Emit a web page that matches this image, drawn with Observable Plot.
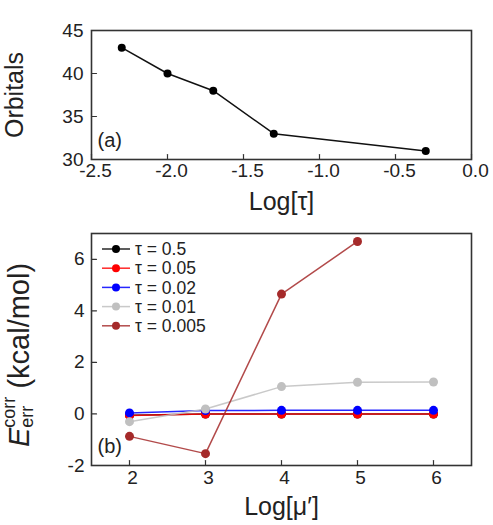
<!DOCTYPE html>
<html><head><meta charset="utf-8">
<script src="https://cdn.jsdelivr.net/npm/d3@7"></script>
<script src="https://cdn.jsdelivr.net/npm/@observablehq/plot@0.6"></script>
<style>
body{margin:0;background:#fff;}
#chart{width:493px;height:525px;}
#chart svg{display:block;overflow:visible;}
</style>
</head><body><div id="chart"></div>
<script>
// ---- Panel (a) data ----
const logTau = [-2.301, -2.0, -1.699, -1.301, -0.301];
const orbitals = [43, 40, 38, 33, 31];
const xTicksA = [-2.5, -2.0, -1.5, -1.0, -0.5, 0.0];
const yTicksA = [30, 35, 40, 45];

// ---- Panel (b) data ----
const logMu = [2, 3, 4, 5, 6];
const seriesNames = ["τ = 0.5", "τ = 0.05", "τ = 0.02", "τ = 0.01", "τ = 0.005"];
const seriesColors = ["#000000", "#ff0000", "#0000ff", "#c0c0c0", "#a52a2a"];
const errTau0_5   = [-0.05, 0.0, 0.0, 0.0, 0.0];
const errTau0_05  = [-0.06, 0.0, 0.0, 0.0, 0.0];
const errTau0_02  = [0.04, 0.13, 0.14, 0.14, 0.14];
const errTau0_01  = [-0.30, 0.19, 1.06, 1.23, 1.24];
const errTau0_005 = [-0.87, -1.54, 4.65, 6.69, null];
const xTicksB = [2, 3, 4, 5, 6];
const yTicksB = [-2, 0, 2, 4, 6];

const FONT = "'Liberation Sans', Arial, sans-serif";
const INK = "#222";

const tableA = logTau.map((x, i) => ({x, y: orbitals[i]}));
const seriesValues = [errTau0_5, errTau0_05, errTau0_02, errTau0_01, errTau0_005];
const tableB = seriesNames.map((name, s) =>
  logMu.map((x, i) => ({x, y: seriesValues[s][i], series: name})).filter(d => d.y != null));

const fmt1 = d => d.toFixed(1);

// inward tick shape for vectors
const tickShape = {draw(context, l) { context.moveTo(0, 0); context.lineTo(0, -l); }};
const inTicksX = ticks => Plot.vector(ticks, {x: d => d, frameAnchor: "bottom", length: 5, rotate: 0, anchor: "start", shape: tickShape, stroke: "#333", strokeWidth: 1.2});
const inTicksY = ticks => Plot.vector(ticks, {y: d => d, frameAnchor: "left", length: 5, rotate: 90, anchor: "start", shape: tickShape, stroke: "#333", strokeWidth: 1.2});

const plotA = Plot.plot({
  width: 493, height: 220,
  marginLeft: 91, marginRight: 22, marginTop: 30, marginBottom: 61,
  style: {fontFamily: FONT, fontSize: "19px", color: INK, background: "white"},
  x: {domain: [-2.5, 0]},
  y: {domain: [30, 45]},
  marks: [
    Plot.axisX({ticks: xTicksA, tickFormat: fmt1, tickSize: 0, tickPadding: 4, dx: 4, fontSize: 19, label: null}),
    Plot.axisY({ticks: yTicksA, tickFormat: d => String(d), tickSize: 0, tickPadding: 8, fontSize: 19, label: null}),
    inTicksX(xTicksA),
    inTicksY(yTicksA),
    Plot.line(tableA, {x: "x", y: "y", stroke: "#111", strokeWidth: 1.5}),
    Plot.dot(tableA, {x: "x", y: "y", r: 4, fill: "#000"}),
    Plot.frame({stroke: "#333", strokeWidth: 1.6}),
    Plot.text(["(a)"], {text: d => d, frameAnchor: "bottom-left", dx: 6, dy: -13, textAnchor: "start", lineAnchor: "bottom", fontSize: 20}),
    Plot.text(["Log[τ]"], {text: d => d, frameAnchor: "bottom", dy: 33, lineAnchor: "top", fontSize: 25}),
    Plot.text(["Orbitals"], {text: d => d, frameAnchor: "left", dx: -77, rotate: -90, textAnchor: "middle", lineAnchor: "middle", fontSize: 25})
  ]
});

const bMarks = tableB.flatMap((rows, s) => [
  Plot.line(rows, {x: "x", y: "y", stroke: seriesColors[s], strokeWidth: 1.5, strokeOpacity: 0.85}),
  Plot.dot(rows, {x: "x", y: "y", r: 4.5, fill: seriesColors[s]})
]);

const plotB = Plot.plot({
  width: 493, height: 305,
  marginLeft: 91, marginRight: 22, marginTop: 13, marginBottom: 60,
  style: {fontFamily: FONT, fontSize: "19px", color: INK, background: "white"},
  x: {domain: [1.5, 6.5]},
  y: {domain: [-2, 7]},
  marks: [
    Plot.axisX({ticks: xTicksB, tickFormat: d => String(d), tickSize: 0, tickPadding: 5, dx: 3, fontSize: 19, label: null}),
    Plot.axisY({ticks: yTicksB, tickFormat: d => String(d), tickSize: 0, tickPadding: 7, fontSize: 19, label: null}),
    inTicksX(xTicksB),
    inTicksY(yTicksB),
    ...bMarks,
    Plot.frame({stroke: "#333", strokeWidth: 1.6}),
    Plot.text(["(b)"], {text: d => d, frameAnchor: "bottom-left", dx: 6, dy: -13, textAnchor: "start", lineAnchor: "bottom", fontSize: 20}),
    Plot.text(["Log[μ′]"], {text: d => d, frameAnchor: "bottom", dy: 32, lineAnchor: "top", fontSize: 25})
  ]
});

const chart = document.getElementById("chart");
chart.appendChild(plotA);
chart.appendChild(plotB);

// y label of panel (b) with super/subscripts
const svgB = d3.select(plotB);
const yl = svgB.append("text")
  .attr("transform", "translate(29,227) rotate(-90)")
  .attr("text-anchor", "start")
  .attr("font-family", FONT)
  .attr("font-size", 29)
  .attr("fill", INK);
yl.append("tspan").attr("font-style", "italic").text("E");
yl.append("tspan").attr("font-size", 18).attr("dy", -14).text("corr");
yl.append("tspan").attr("font-size", 18).attr("dx", -31).attr("dy", 18).text("err");
yl.append("tspan").attr("dy", -4).attr("dx", 9).text(" (kcal/mol)");

// legend
const leg = svgB.append("g").attr("font-family", FONT).attr("font-size", 17.5).attr("fill", INK).attr("text-anchor", "start");
seriesNames.forEach((name, i) => {
  const cy = 29 + i * 19.2;
  leg.append("line").attr("x1", 102).attr("x2", 130).attr("y1", cy).attr("y2", cy)
    .attr("stroke", seriesColors[i]).attr("stroke-width", 1.5).attr("stroke-opacity", 0.85);
  leg.append("circle").attr("cx", 116).attr("cy", cy).attr("r", 4).attr("fill", seriesColors[i]);
  leg.append("text").attr("x", 135).attr("y", cy).attr("dy", "0.35em").text(name);
});
</script>
</body></html>
